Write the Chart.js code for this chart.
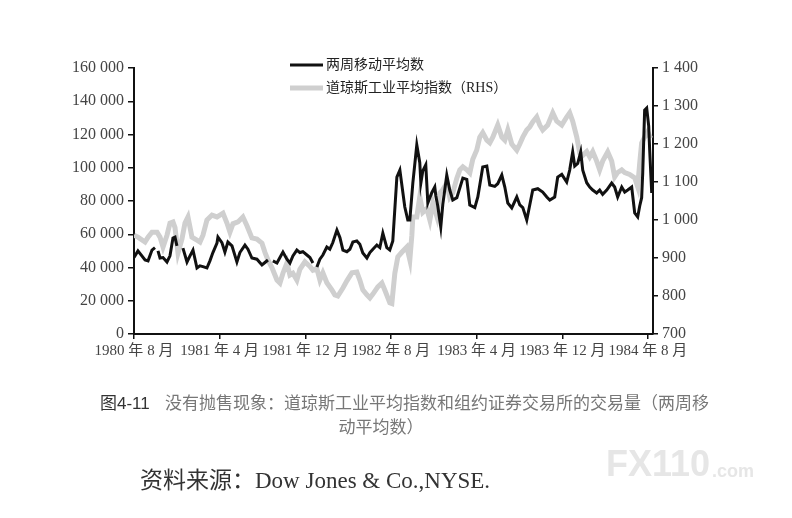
<!DOCTYPE html>
<html>
<head>
<meta charset="utf-8">
<title>图4-11</title>
<script src="https://cdn.jsdelivr.net/npm/chart.js@4/dist/chart.umd.min.js"></script>
<style>
  html, body { margin: 0; padding: 0; background: #fff; }
  #wrap { width: 792px; height: 518px; }
</style>
</head>
<body>
<div id="wrap"><canvas id="grafico" width="792" height="518"></canvas></div>
<script>
// months counted from 1980年8月
const xTickMonths = [0, 8, 16, 24, 32, 40, 48];
const xTickLabels = ['1980 年 8 月', '1981 年 4 月', '1981 年 12 月', '1982 年 8 月', '1983 年 4 月', '1983 年 12 月', '1984 年 8 月'];

// 两周移动平均数 (left axis), null = break in the printed line
const volMonths = [0, 0.37, 1.03, 1.31, 1.68, 1.96, 2.1, 2.24, 2.43, 2.71,
  3.08, 3.36, 3.64, 3.83, 4.01, 4.3, 4.57, 4.95, 5.23, 5.51,
  5.88, 6.16, 6.44, 6.81, 7.09, 7.37, 7.75, 7.84, 8.21, 8.49,
  8.77, 9.15, 9.61, 9.89, 10.36, 10.64, 11.01, 11.48, 11.95, 12.23,
  12.51, 12.75, 12.97, 13.35, 13.63, 13.91, 14.28, 14.56, 14.84, 15.21,
  15.49, 15.77, 16.15, 16.43, 16.71, 16.9, 17.08, 17.36, 17.64, 18.01,
  18.29, 18.57, 18.95, 19.23, 19.51, 19.88, 20.16, 20.44, 20.81, 21.09,
  21.37, 21.75, 22.03, 22.31, 22.68, 22.96, 23.24, 23.61, 23.89, 24.17,
  24.55, 24.83, 25.29, 25.57, 25.76, 26.04, 26.41, 26.69, 26.79, 26.97,
  27.25, 27.44, 27.81, 28.09, 28.19, 28.37, 28.65, 28.84, 29.21, 29.49,
  29.77, 30.15, 30.71, 31.08, 31.36, 31.83, 32.11, 32.57, 32.95, 33.23,
  33.69, 33.97, 34.35, 34.63, 34.91, 35.28, 35.75, 36.03, 36.31, 36.68,
  36.96, 37.24, 37.71, 38.17, 38.55, 38.83, 39.29, 39.57, 39.95, 40.41,
  40.69, 40.97, 41.16, 41.44, 41.72, 41.91, 42.28, 42.56, 42.84, 43.21,
  43.49, 43.77, 44.15, 44.61, 44.89, 45.17, 45.55, 45.83, 46.11, 46.48,
  46.76, 47.04, 47.23, 47.41, 47.51, 47.69, 47.88, 48.07, 48.16, 48.35];
const volValues = [46000, 50000, 44500, 44000, 50500, 52000, null, 50000, 45700, 46000,
  43300, 47000, 57700, 58300, 53000, null, 51700, 43300, 47000, 50500,
  39700, 41000, 40500, 39700, 44000, 49000, 54700, 58300, 55000, 49300,
  55300, 53000, 43300, 49000, 53500, 51000, 45700, 45000, 41500, 43000,
  44500, null, 44000, 42700, 46000, 49300, 45000, 42700, 47000, 50500,
  49000, 49500, 47500, 46000, 42700, null, 40300, 45000, 47500, 52300,
  51000, 55000, 62500, 58000, 50500, 49500, 51000, 55300, 56000, 54000,
  48700, 45700, 49000, 51000, 53500, 52000, 60700, 52000, 50500, 56000,
  94400, 98600, 76400, 68600, 68600, 90800, 113700, 103000, 90800, 98000,
  101700, 78800, 85000, 88400, 83000, 77000, 64400, 78000, 95600, 86600,
  80600, 82000, 93800, 93000, 77600, 76000, 82400, 100400, 101000, 89600,
  88800, 90400, 95600, 88400, 78800, 75800, 82400, 77600, 76000, 68600,
  77600, 86600, 87400, 85400, 82400, 80600, 82400, 94400, 96000, 91400,
  98600, 109500, 101000, 102600, 109500, 98600, 91000, 88400, 86600, 84800,
  86600, 84000, 86600, 90800, 88400, 82400, 88400, 85400, 86600, 88400,
  72800, 70400, 77000, 82000, 96800, 134700, 135900, 125000, 110700, 84800];

// 道琼斯工业平均指数 (right axis)
const djiaMonths = [0, 0.37, 1.03, 1.31, 1.68, 2.15, 2.43, 2.71, 3.08, 3.36,
  3.64, 3.83, 4.11, 4.48, 4.76, 5.04, 5.41, 5.88, 6.16, 6.44,
  6.81, 7.28, 7.75, 8.03, 8.31, 8.68, 8.96, 9.24, 9.71, 10.17,
  10.55, 11.01, 11.48, 11.95, 12.23, 12.51, 12.88, 13.35, 13.63, 13.91,
  14.28, 14.56, 14.84, 15.21, 15.49, 15.96, 16.43, 16.71, 17.08, 17.36,
  17.64, 18.01, 18.48, 18.76, 19.04, 19.51, 19.88, 20.35, 20.81, 21.09,
  21.37, 21.75, 22.03, 22.31, 22.77, 23.15, 23.43, 23.89, 24.08, 24.36,
  24.64, 25.01, 25.48, 25.76, 25.95, 26.04, 26.41, 26.69, 26.97, 27.35,
  27.63, 27.91, 28.28, 28.56, 28.84, 29.21, 29.49, 29.77, 30.15, 30.43,
  30.71, 31.08, 31.36, 31.64, 32.01, 32.29, 32.57, 32.95, 33.23, 33.51,
  33.97, 34.35, 34.63, 34.91, 35.28, 35.75, 36.03, 36.31, 36.68, 36.96,
  37.24, 37.61, 37.89, 38.17, 38.64, 39.11, 39.48, 39.95, 40.41, 40.69,
  40.97, 41.35, 41.63, 41.91, 42.28, 42.56, 42.84, 43.21, 43.49, 43.77,
  44.24, 44.61, 44.89, 45.17, 45.55, 45.83, 46.29, 46.76, 47.04, 47.23,
  47.41, 47.69, 47.97, 48.25];
const djiaValues = [960, 955, 942, 955, 968, 968, 955, 929, 960, 992,
  995, 980, 913, 950, 992, 1008, 955, 947, 942, 960,
  1000, 1013, 1008, 1013, 1018, 992, 968, 990, 995, 1008,
  985, 953, 950, 939, 915, 895, 875, 842, 834, 860,
  887, 855, 860, 842, 870, 890, 878, 868, 872, 842,
  861, 835, 816, 803, 800, 821, 840, 861, 863, 842,
  816, 803, 795, 805, 824, 834, 815, 782, 780, 860,
  903, 915, 929, 895, 960, 1008, 1008, 1061, 1020, 1030,
  1000, 1045, 1010, 1071, 1080, 1097, 1060, 1071, 1110, 1132,
  1140, 1132, 1124, 1160, 1184, 1218, 1230, 1210, 1203, 1218,
  1250, 1218, 1210, 1237, 1200, 1184, 1200, 1218, 1237, 1245,
  1258, 1271, 1250, 1237, 1250, 1282, 1260, 1250, 1271, 1282,
  1260, 1218, 1176, 1170, 1180, 1166, 1180, 1155, 1132, 1155,
  1179, 1155, 1113, 1125, 1132, 1125, 1120, 1111, 1087, 1150,
  1203, 1218, 1232, 1215];

const serif = '"Liberation Serif", "Noto Sans CJK SC", serif';
const cjk = '"Noto Sans CJK SC", "Liberation Serif", sans-serif';

const conEspacios = v => String(v).replace(/\B(?=(\d{3})+(?!\d))/g, ' ');
const pares = (xs, ys) => xs.map((m, i) => ({ x: m, y: ys[i] }));

// legend, caption and source text drawn straight on the canvas
const textosPagina = {
    id: 'textosPagina',
    afterDraw(chart) {
        const c = chart.ctx;
        c.save();
        c.textBaseline = 'middle';
        chart.data.datasets.forEach((ds, i) => {
            const y = 65 + i * 23;
            c.strokeStyle = ds.borderColor;
            c.lineWidth = ds.borderWidth;
            c.beginPath();
            c.moveTo(290, y);
            c.lineTo(323, y);
            c.stroke();
            c.fillStyle = '#222';
            c.font = '14px ' + serif;
            c.textAlign = 'left';
            c.fillText(ds.label, 326, y);
        });

        c.textAlign = 'left';
        c.fillStyle = '#333';
        c.font = '17px ' + cjk;
        c.fillText('图', 100, 403);
        c.font = '17px "Liberation Sans", sans-serif';
        c.fillText('4-11', 117, 404);
        c.fillStyle = '#777';
        c.font = '17px ' + cjk;
        c.fillText('没有抛售现象：道琼斯工业平均指数和组约证券交易所的交易量（两周移', 165, 403);
        c.textAlign = 'center';
        c.fillText('动平均数）', 381, 427);

        c.fillStyle = '#333';
        c.font = '23px ' + serif;
        c.textAlign = 'left';
        c.fillText('资料来源：Dow Jones & Co.,NYSE.', 140, 482);

        c.fillStyle = '#e6e6e6';
        c.font = 'bold 36px "Liberation Sans", sans-serif';
        c.fillText('FX110', 606, 466);
        c.font = 'bold 18px "Liberation Sans", sans-serif';
        c.fillText('.com', 712, 472);
        c.restore();
    }
};

const ctx = document.getElementById('grafico').getContext('2d');

new Chart(ctx, {
    type: 'line',
    data: {
        datasets: [{
            label: '两周移动平均数',
            data: pares(volMonths, volValues),
            yAxisID: 'y',
            borderColor: '#111',
            borderWidth: 3,
            pointRadius: 0,
            tension: 0,
            spanGaps: false
        }, {
            label: '道琼斯工业平均指数（RHS）',
            data: pares(djiaMonths, djiaValues),
            yAxisID: 'y1',
            borderColor: '#cfcfcf',
            borderWidth: 5,
            pointRadius: 0,
            tension: 0
        }]
    },
    options: {
        responsive: false,
        animation: false,
        devicePixelRatio: 1,
        layout: { padding: { top: 68, left: 0, right: 0, bottom: 0 } },
        plugins: {
            legend: { display: false },
            tooltip: { enabled: false }
        },
        scales: {
            x: {
                type: 'linear',
                min: 0,
                max: 48.47,
                afterBuildTicks: s => { s.ticks = xTickMonths.map(v => ({ value: v })); },
                afterFit: s => { s.height = 184; },
                grid: { drawOnChartArea: false, color: '#111', lineWidth: 1.5, tickLength: 5 },
                border: { color: '#111', width: 2 },
                ticks: {
                    autoSkip: false,
                    maxRotation: 0,
                    padding: 3,
                    color: '#444',
                    font: { family: serif, size: 15 },
                    callback: v => xTickLabels[xTickMonths.indexOf(v)]
                }
            },
            y: {
                position: 'left',
                min: 0,
                max: 160000,
                afterFit: s => { s.width = 134; },
                grid: { drawOnChartArea: false, color: '#111', lineWidth: 1.5, tickLength: 6 },
                border: { color: '#111', width: 2 },
                ticks: {
                    stepSize: 20000,
                    padding: 4,
                    color: '#444',
                    font: { family: serif, size: 16 },
                    callback: v => conEspacios(v)
                }
            },
            y1: {
                position: 'right',
                min: 700,
                max: 1400,
                afterFit: s => { s.width = 139; },
                grid: { drawOnChartArea: false, color: '#111', lineWidth: 1.5, tickLength: 5 },
                border: { color: '#111', width: 2 },
                ticks: {
                    stepSize: 100,
                    padding: 4,
                    color: '#444',
                    font: { family: serif, size: 16 },
                    callback: v => conEspacios(v)
                }
            }
        }
    },
    plugins: [textosPagina]
});
</script>
</body>
</html>
